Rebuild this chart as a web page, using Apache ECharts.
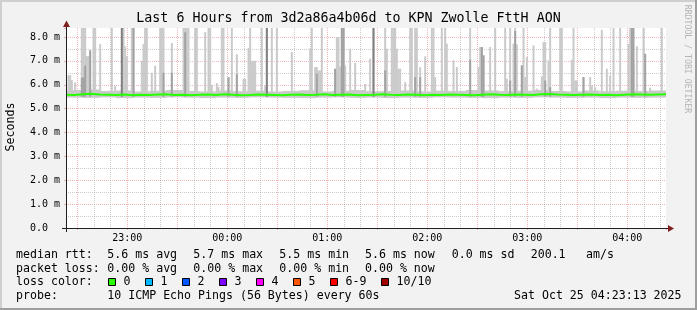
<!DOCTYPE html>
<html>
<head>
<meta charset="utf-8">
<script src="https://cdn.jsdelivr.net/npm/echarts@6/dist/echarts.min.js"></script>
<style>
  html, body { margin: 0; padding: 0; background: #f2f2f2; }
  #chart { width: 697px; height: 310px; }
</style>
</head>
<body>
<div id="chart"></div>
<script>
// x axis is in hours of day, values past 24 belong to the next day
const startHour = 22 + 23 / 60 + 13 / 3600;   // 22:23:13
const spanHours = 6;
const yMax = 8.377;

const xTickLabels = ['23:00', '00:00', '01:00', '02:00', '03:00', '04:00'];
const yTickLabels = ['0.0', '1.0 m', '2.0 m', '3.0 m', '4.0 m', '5.0 m', '6.0 m', '7.0 m', '8.0 m'];

// median rtt (ms), one value every 5 minutes
const medianRtt = [
  5.58, 5.57, 5.60, 5.62, 5.59, 5.58, 5.57, 5.59, 5.56, 5.58,
  5.57, 5.59, 5.60, 5.57, 5.58, 5.56, 5.58, 5.59, 5.57, 5.60,
  5.58, 5.56, 5.57, 5.59, 5.58, 5.57, 5.56, 5.58, 5.59, 5.57,
  5.58, 5.60, 5.57, 5.58, 5.59, 5.56, 5.57, 5.58, 5.60, 5.58,
  5.57, 5.59, 5.58, 5.56, 5.58, 5.57, 5.59, 5.58, 5.57, 5.56,
  5.58, 5.60, 5.58, 5.57, 5.59, 5.58, 5.57, 5.60, 5.61, 5.59,
  5.58, 5.57, 5.58, 5.59, 5.57, 5.58, 5.56, 5.58, 5.60, 5.59,
  5.58, 5.59, 5.60
];

// low smoke band around the median, one value every 10 minutes
const bandTop = [
  5.78, 5.80, 5.74, 5.76, 5.72, 5.75, 5.78, 5.74, 5.72, 5.76, 5.73, 5.75,
  5.72, 5.74, 5.77, 5.72, 5.75, 5.78, 5.73, 5.74, 5.76, 5.72, 5.75, 5.74,
  5.78, 5.76, 5.73, 5.75, 5.78, 5.74, 5.72, 5.76, 5.73, 5.75, 5.74, 5.76
];
const bandBottom = [
  5.46, 5.45, 5.47, 5.44, 5.46, 5.45, 5.47, 5.46, 5.44, 5.46, 5.45, 5.47,
  5.46, 5.45, 5.44, 5.46, 5.47, 5.45, 5.46, 5.44, 5.46, 5.45, 5.47, 5.46,
  5.45, 5.44, 5.46, 5.45, 5.47, 5.46, 5.45, 5.46, 5.44, 5.46, 5.45, 5.46
];

// smoke spikes: [minute after start, highest ping (ms)]
const smokeBase = 5.5;
const lightSmoke = [
  [1, 6.4], [2, 6.4], [3, 6.2], [5, 6.1], [9, 8.4], [10, 8.4], [11, 8.4], [12, 7.2], [13, 7.2], [14, 7.44],
  [16, 8.4], [17, 8.4], [20, 7.7], [27, 8.4], [29, 5.95], [33, 8.4], [34, 8.4], [35, 7.6], [36, 7.2],
  [39, 8.4], [40, 8.4], [45, 7.0], [46, 7.7], [47, 8.4], [48, 8.4], [51, 6.5], [53, 6.8], [56, 8.4],
  [57, 8.4], [58, 8.4], [63, 7.75], [70, 8.4], [71, 8.4], [72, 8.4], [73, 8.4], [77, 8.4], [78, 8.4],
  [83, 8.2], [85, 8.4], [86, 8.4], [87, 6.0],
  [90, 6.07], [91, 5.9], [93, 8.4], [94, 8.4], [97, 6.3], [99, 8.4], [102, 7.27], [106, 6.25], [107, 6.25],
  [109, 7.55], [110, 8.4], [111, 7.0], [112, 7.0], [113, 7.0], [117, 8.4], [119, 5.97], [120, 8.4],
  [123, 8.4], [126, 8.4], [135, 7.38], [139, 5.7], [146, 7.51], [147, 8.4], [149, 6.74], [150, 6.74],
  [151, 6.6], [152, 6.6], [153, 8.4], [161, 6.67], [162, 8.0], [163, 8.0], [164, 6.77], [165, 8.4],
  [166, 8.4], [167, 6.81], [170, 7.51], [173, 6.91],
  [179, 6.04], [182, 7.09], [184, 8.4], [191, 8.4], [192, 7.51], [195, 8.4], [196, 8.4], [197, 8.4],
  [198, 7.51], [199, 6.67], [200, 6.67], [203, 6.11], [206, 8.4], [207, 8.4], [209, 8.4], [210, 8.4],
  [212, 6.74], [215, 7.19], [219, 8.4], [220, 8.4], [221, 6.32], [225, 8.4], [227, 8.4], [228, 7.72],
  [232, 7.02], [234, 6.74], [242, 8.4], [247, 6.74], [248, 7.58], [249, 7.58], [250, 7.23], [254, 7.58],
  [257, 8.4], [263, 8.4], [264, 6.25], [266, 8.4], [268, 7.72],
  [269, 8.4], [270, 7.69], [273, 6.81], [274, 8.4], [275, 6.32], [276, 7.16], [280, 7.65], [282, 5.84],
  [285, 6.35], [286, 7.79], [287, 7.79], [289, 7.02], [290, 8.4], [296, 8.4], [297, 8.4], [303, 7.05],
  [304, 8.4], [305, 6.18], [306, 6.18], [310, 6.32], [314, 6.32], [315, 5.97], [317, 5.9], [321, 8.3],
  [324, 6.67], [326, 6.39], [328, 8.4], [332, 8.4], [337, 7.72], [338, 8.4], [339, 8.4], [340, 6.88],
  [342, 7.61], [346, 8.4], [350, 5.88], [357, 8.4]
];
const midSmoke = [
  [9, 6.3], [10, 6.3], [11, 6.8], [14, 7.44], [40, 8.4], [58, 6.5], [63, 6.5], [71, 8.2], [97, 6.32],
  [102, 6.44], [150, 6.46], [161, 6.67], [165, 8.4], [166, 8.4], [191, 6.6], [209, 6.32], [212, 6.32],
  [242, 7.05], [249, 7.58], [250, 7.23], [266, 6.18], [269, 8.25], [273, 6.81], [287, 6.18], [290, 5.9],
  [310, 6.32], [339, 8.4], [340, 8.4], [347, 7.3]
];
const darkSmoke = [[33, 8.4], [120, 8.4], [184, 8.4]];

// legend texts
const rttStats = ['5.6 ms avg', '5.7 ms max', '5.5 ms min', '5.6 ms now', '0.0 ms sd'];
const lossStats = ['0.00 % avg', '0.00 % max', '0.00 % min', '0.00 % now'];
const lossLabels = ['0', '1', '2', '3', '4', '5', '6-9', '10/10'];
const lossColors = ['#26ff00', '#00b8ff', '#0059ff', '#7e00ff', '#ff00ff', '#ff5500', '#ff0000', '#a10000'];
const probeText = '10 ICMP Echo Pings (56 Bytes) every 60s';
const stampText = 'Sat Oct 25 04:23:13 2025';

const mono = '"DejaVu Sans Mono", monospace';
const gridGrey = 'rgba(143,143,143,0.45)';
const gridRed = 'rgba(222,79,79,0.42)';

function minuteToX(m) { return startHour + (m + 0.5) / 60; }

function columns(color, minutes) {
  return function (params, api) {
    const x = api.value(0);
    const lo = api.coord([x, api.value(1)]);
    const hi = api.coord([x, api.value(2)]);
    const w = api.size([minutes / 60, 0])[0] + 0.3;
    return {
      type: 'rect',
      shape: { x: lo[0] - w / 2, y: hi[1], width: w, height: lo[1] - hi[1] },
      style: { fill: color }
    };
  };
}

function smokeSeries(list, color) {
  return {
    type: 'custom',
    clip: true,
    renderItem: columns(color, 1),
    encode: { x: 0, y: [1, 2] },
    data: list.map(p => [minuteToX(p[0]), smokeBase, p[1]])
  };
}

function txt(x, y, text, size, extra) {
  return {
    type: 'text', x: x, y: y, silent: true,
    style: Object.assign({ text: text, font: size + 'px ' + mono, fill: '#000', verticalAlign: 'middle' }, extra || {})
  };
}

const graphics = [
  { type: 'rect', shape: { x: 0, y: 0, width: 697, height: 2 }, style: { fill: '#cfcfcf' } },
  { type: 'rect', shape: { x: 0, y: 0, width: 2, height: 310 }, style: { fill: '#cfcfcf' } },
  { type: 'rect', shape: { x: 0, y: 308, width: 697, height: 2 }, style: { fill: '#9e9e9e' } },
  { type: 'rect', shape: { x: 695, y: 0, width: 2, height: 310 }, style: { fill: '#9e9e9e' } },
  // axes with arrows
  { type: 'line', shape: { x1: 62, y1: 228.5, x2: 670, y2: 228.5 }, style: { stroke: '#1f1f1f', lineWidth: 1 }, z: 10 },
  { type: 'line', shape: { x1: 66.5, y1: 232, x2: 66.5, y2: 24 }, style: { stroke: '#1f1f1f', lineWidth: 1 }, z: 10 },
  { type: 'polygon', shape: { points: [[66.5, 20.5], [63, 27], [70, 27]] }, style: { fill: '#801f1f' }, z: 10 },
  { type: 'polygon', shape: { points: [[674, 228.5], [668, 225], [668, 232]] }, style: { fill: '#801f1f' }, z: 10 },
  txt(348.5, 19, 'Last 6 Hours from 3d2a86a4b06d to KPN Zwolle FttH AON', 13.3, { align: 'center' }),
  Object.assign(txt(11, 127, 'Seconds', 11.6, { align: 'center' }), { rotation: Math.PI / 2 }),
  Object.assign(txt(687.5, 59, 'RRDTOOL / TOBI OETIKER', 8.2, { align: 'center', fill: '#b5b5b5' }), { rotation: -Math.PI / 2 }),
  txt(16, 254.5, 'median rtt:', 11.6),
  txt(16, 268.5, 'packet loss:', 11.6),
  txt(16, 282.3, 'loss color:', 11.6),
  txt(16, 296.2, 'probe:', 11.6),
  txt(107.3, 296.2, probeText, 11.6),
  txt(514, 296.2, stampText, 11.6),
  txt(530.7, 254.5, '200.1', 11.6),
  txt(586, 254.5, 'am/s', 11.6)
];
const statX = [107.3, 193.3, 279.3, 365, 451.7];
rttStats.forEach((s, i) => graphics.push(txt(statX[i], 254.5, s, 11.6)));
lossStats.forEach((s, i) => graphics.push(txt(statX[i], 268.5, s, 11.6)));
const boxX = [108.5, 145.5, 182.5, 219.5, 256.5, 293.5, 330.5, 381.5];
lossLabels.forEach((s, i) => {
  graphics.push({ type: 'rect', shape: { x: boxX[i], y: 278.5, width: 7, height: 7 },
    style: { fill: lossColors[i], stroke: '#000', lineWidth: 1 } });
  graphics.push(txt(boxX[i] + 15, 282.3, s, 11.6));
});

const chart = echarts.init(document.getElementById('chart'));
chart.setOption({
  backgroundColor: '#f2f2f2',
  animation: false,
  grid: { left: 66, top: 28, width: 600, height: 200, show: true, backgroundColor: '#fff', borderWidth: 0 },
  xAxis: [
    {
      type: 'value', position: 'bottom', min: startHour, max: startHour + spanHours, splitNumber: 6,
      axisLine: { show: false }, axisTick: { show: false }, splitLine: { show: false },
      axisLabel: {
        margin: 5, fontFamily: mono, fontSize: 10, color: '#000',
        formatter: v => {
          const h = Math.round(v);
          return Math.abs(v - h) < 1e-6 && xTickLabels[h - 23] ? xTickLabels[h - 23] : '';
        }
      }
    },
    {
      type: 'value', position: 'bottom', min: startHour, max: startHour + spanHours, splitNumber: 12,
      axisLine: { show: false }, axisLabel: { show: false },
      axisTick: { show: true, length: 2, lineStyle: { color: gridRed } },
      splitLine: { show: true, showMinLine: false, showMaxLine: false, lineStyle: { color: gridRed, type: [1, 1] } },
      minorTick: { show: false, splitNumber: 3 },
      minorSplitLine: { show: true, lineStyle: { color: gridGrey, type: [1, 1] } }
    }
  ],
  yAxis: {
    type: 'value', min: 0, max: yMax, interval: 1,
    axisLine: { show: false },
    axisTick: { show: true, length: 2, lineStyle: { color: gridRed } },
    axisLabel: {
      align: 'left', margin: 36, fontFamily: mono, fontSize: 10, color: '#000',
      formatter: v => {
        const k = Math.round(v);
        return Math.abs(v - k) < 1e-6 && yTickLabels[k] ? yTickLabels[k] : '';
      }
    },
    splitLine: { show: true, showMinLine: false, showMaxLine: false, lineStyle: { color: gridRed, type: [1, 1] } },
    minorTick: { show: false, splitNumber: 2 },
    minorSplitLine: { show: true, lineStyle: { color: gridGrey, type: [1, 1] } }
  },
  series: [
    {
      type: 'custom', clip: true, renderItem: columns('#cacaca', 10), encode: { x: 0, y: [1, 2] },
      data: bandTop.map((t, i) => [startHour + (i * 10 + 5) / 60, bandBottom[i], t])
    },
    smokeSeries(lightSmoke, '#cacaca'),
    smokeSeries(midSmoke, '#a2a2a2'),
    smokeSeries(darkSmoke, '#808080'),
    {
      type: 'line', showSymbol: false, symbol: 'none', clip: true,
      lineStyle: { color: '#26ff00', width: 2 },
      data: medianRtt.map((v, i) => [startHour + (i * 5) / 60, v]),
      z: 5
    }
  ],
  graphic: graphics
});
</script>
</body>
</html>
